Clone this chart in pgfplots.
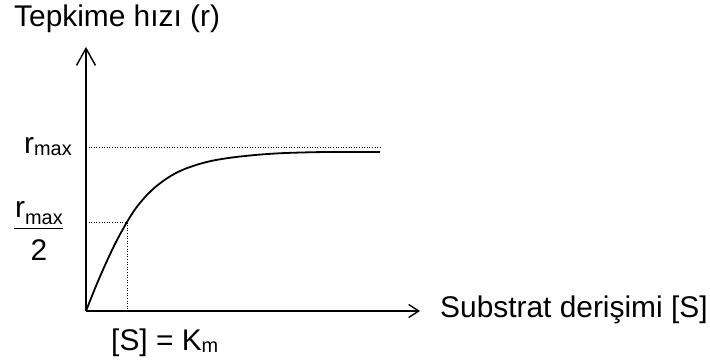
\documentclass[border=0pt]{standalone}
\usepackage{pgfplots}
\pgfplotsset{compat=1.18}
\usepackage{fontspec}
\setmainfont{Liberation Sans}
\usetikzlibrary{arrows.meta}
\newcommand\lbl{\fontsize{30}{36}\selectfont}
\newcommand\sub[2][-2bp]{\raisebox{#1}{\fontsize{20}{24}\selectfont #2}}

\begin{document}
\begin{tikzpicture}
\begin{axis}[
  at={(0,0)}, anchor=origin,
  x=1bp, y=1bp,
  xmin=0, xmax=334, ymin=0, ymax=264,
  axis lines=left,
  axis line style={line width=1.6bp},
  x axis line style={-{Straight Barb[length=10bp,width=13bp,line width=1.4bp]}},
  y axis line style={-{Straight Barb[length=17bp,width=19bp,line width=1.4bp]}},
  xtick=\empty, ytick=\empty,
  clip=false,
]
% reaction rate versus substrate concentration
\addplot[black, line width=1.8bp, smooth] coordinates {
  (0,0) (10,25) (20,48) (30,69) (41,89) (50,103) (60,115) (70,124.5)
  (80,132) (90,138) (100,142.5) (115,147.5) (130,151) (150,154)
  (175,156.5) (200,158) (240,159) (294,159)
};
% saturation level and half-saturation guides
\addplot[black, line width=0.9bp, dash pattern=on 1bp off 1.6bp] coordinates {(0,164) (294,164)};
\addplot[black, line width=0.9bp, dash pattern=on 1bp off 1.6bp] coordinates {(0,89) (41,89) (41,0)};

\node[anchor=base west, font=\lbl, inner sep=0] at (axis cs:-72,285) {Tepkime hızı (r)};
\node[anchor=base west, font=\lbl, inner sep=0] at (axis cs:354,-6) {Substrat derişimi [S]};
\node[anchor=base west, font=\lbl, inner sep=0] at (axis cs:25,-39) {[S] = K\sub{m}};
\node[anchor=base west, font=\lbl, inner sep=0] at (axis cs:-62,158) {r\sub{max}};
\node[anchor=base west, font=\lbl, inner sep=0] at (axis cs:-71,94) {r\sub[-7bp]{max}};
\draw[line width=1bp] (axis cs:-71.7,82.7) -- (axis cs:-23.3,82.7);
\node[anchor=base, font=\lbl, inner sep=0] at (axis cs:-47,51) {2};
\end{axis}
\path (-86bp,-49bp) rectangle (624bp,311bp);
\end{tikzpicture}
\end{document}
